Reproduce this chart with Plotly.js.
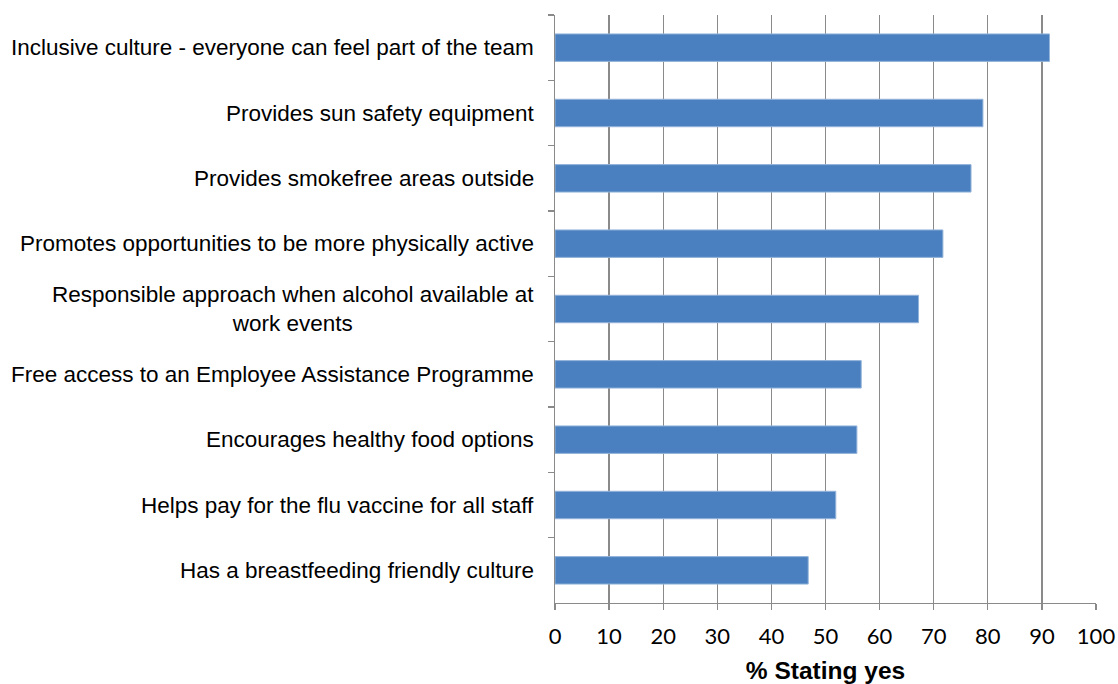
<!DOCTYPE html>
<html>
<head>
<meta charset="utf-8">
<script src="https://cdn.plot.ly/plotly-3.0.1.min.js"></script>
<style>
  html, body { margin: 0; padding: 0; background: #ffffff; }
  #chart { width: 1118px; height: 684px; }
</style>
</head>
<body>
<div id="chart"></div>
<script>
// Workplace health features, listed top to bottom
const categories = [
  "Inclusive culture - everyone can feel part of the team",
  "Provides sun safety equipment",
  "Provides smokefree areas outside",
  "Promotes opportunities to be more physically active",
  "Responsible approach when alcohol available at<br>work events",
  "Free access to an Employee Assistance Programme",
  "Encourages healthy food options",
  "Helps pay for the flu vaccine for all staff",
  "Has a breastfeeding friendly culture"
];
const percentYes = [91.4, 79.1, 76.9, 71.7, 67.2, 56.6, 55.8, 51.9, 46.8];
const xTickValues = [0, 10, 20, 30, 40, 50, 60, 70, 80, 90, 100];
const xTitle = "% Stating yes";

const fontFamily = "Liberation Sans, Arial, sans-serif";
const labelFont = { family: fontFamily, size: 22.5, color: "#000000" };
const tickFont = { family: "Lato, Liberation Sans, sans-serif", size: 22, color: "#000000" };
const gridGrey = "#8a8a8a";

const trace = {
  type: "bar",
  orientation: "h",
  y: categories,
  x: percentYes,
  marker: { color: "#4a80bf", line: { color: "#93b3da", width: 1 } },
  hoverinfo: "x+y"
};

// Category labels as annotations so wrapped lines are centred
const labelAnnotations = categories.map(c => ({
  xref: "paper", yref: "y",
  x: 0, y: c,
  xanchor: "right", yanchor: "middle",
  xshift: -19,
  align: "center",
  text: c,
  showarrow: false,
  font: labelFont
}));

const layout = {
  width: 1118, height: 684,
  margin: { l: 555, r: 22, t: 15, b: 81 },
  paper_bgcolor: "#ffffff",
  plot_bgcolor: "#ffffff",
  showlegend: false,
  bargap: 0.58,
  xaxis: {
    range: [0, 100],
    tickvals: xTickValues,
    ticktext: xTickValues.map(String),
    showgrid: true, gridcolor: gridGrey, gridwidth: 1.4,
    zeroline: false,
    showline: true, linecolor: gridGrey, linewidth: 1.4,
    ticks: "outside", ticklen: 6, tickcolor: gridGrey, tickwidth: 1.4,
    ticklabelstandoff: 7,
    tickfont: tickFont,
    title: { text: "<b>" + xTitle + "</b>", font: { family: fontFamily, size: 24.5, color: "#000000" }, standoff: 14 },
    fixedrange: true
  },
  yaxis: {
    type: "category",
    autorange: "reversed",
    showticklabels: false,
    showgrid: false,
    zeroline: false,
    showline: true, linecolor: gridGrey, linewidth: 1.4,
    ticks: "outside", tickson: "boundaries", ticklen: 6, tickcolor: gridGrey, tickwidth: 1.4,
    fixedrange: true
  },
  annotations: labelAnnotations
};

Plotly.newPlot("chart", [trace], layout, { displayModeBar: false, staticPlot: true });
</script>
</body>
</html>
